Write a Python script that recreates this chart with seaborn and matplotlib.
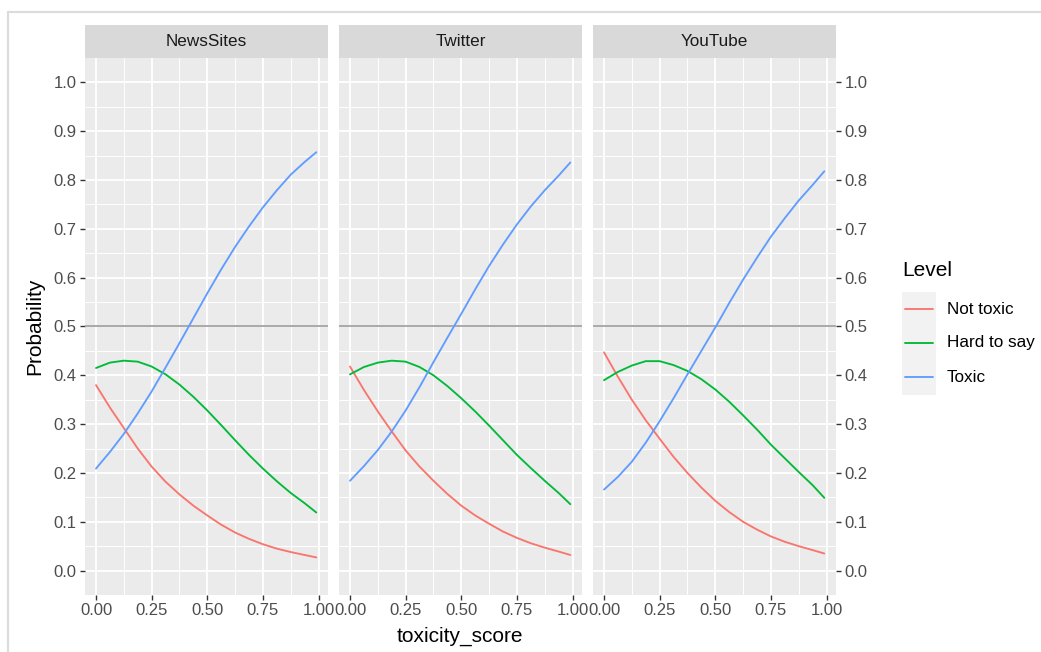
import numpy as np
import pandas as pd
import matplotlib
matplotlib.use("Agg")
import matplotlib.pyplot as plt
import seaborn as sns
from matplotlib.lines import Line2D
from matplotlib.patches import Rectangle

# ---------------- data ----------------
platforms = ["NewsSites", "Twitter", "YouTube"]
levels = ["Not toxic", "Hard to say", "Toxic"]
level_colors = ["#F8766D", "#00BA38", "#619CFF"]

toxicity_score = [0.0, 0.0625, 0.125, 0.1875, 0.25, 0.3125, 0.375, 0.4375,
                  0.5, 0.5625, 0.625, 0.6875, 0.75, 0.8125, 0.875, 0.9375, 0.99]

news_not_toxic = [0.380, 0.334, 0.292, 0.250, 0.213, 0.182, 0.156, 0.133,
                  0.113, 0.094, 0.078, 0.065, 0.054, 0.045, 0.038, 0.032, 0.027]
news_hard = [0.415, 0.426, 0.430, 0.428, 0.418, 0.402, 0.381, 0.356,
             0.328, 0.298, 0.267, 0.237, 0.209, 0.183, 0.159, 0.138, 0.119]
news_toxic = [0.209, 0.243, 0.280, 0.322, 0.367, 0.416, 0.466, 0.517,
              0.568, 0.617, 0.663, 0.705, 0.744, 0.779, 0.811, 0.837, 0.857]

twitter_not_toxic = [0.418, 0.370, 0.326, 0.285, 0.246, 0.213, 0.184, 0.157,
                     0.133, 0.113, 0.096, 0.080, 0.067, 0.056, 0.047, 0.039, 0.032]
twitter_hard = [0.402, 0.417, 0.426, 0.430, 0.428, 0.417, 0.400, 0.378,
                0.353, 0.326, 0.297, 0.267, 0.237, 0.210, 0.184, 0.159, 0.136]
twitter_toxic = [0.184, 0.214, 0.247, 0.285, 0.328, 0.376, 0.427, 0.477,
                 0.526, 0.576, 0.624, 0.668, 0.709, 0.746, 0.779, 0.809, 0.836]

youtube_not_toxic = [0.447, 0.397, 0.350, 0.308, 0.270, 0.233, 0.200, 0.170,
                     0.143, 0.120, 0.100, 0.084, 0.070, 0.059, 0.050, 0.042, 0.035]
youtube_hard = [0.390, 0.407, 0.420, 0.429, 0.429, 0.421, 0.409, 0.392,
                0.371, 0.346, 0.318, 0.289, 0.258, 0.230, 0.202, 0.175, 0.149]
youtube_toxic = [0.166, 0.192, 0.223, 0.262, 0.306, 0.353, 0.402, 0.450,
                 0.498, 0.548, 0.596, 0.641, 0.684, 0.722, 0.758, 0.790, 0.818]

x_tick_values = [0.0, 0.25, 0.5, 0.75, 1.0]
x_tick_labels = ["0.00", "0.25", "0.50", "0.75", "1.00"]
y_tick_values = [0.0, 0.1, 0.2, 0.3, 0.4, 0.5, 0.6, 0.7, 0.8, 0.9, 1.0]
y_tick_labels = ["0.0", "0.1", "0.2", "0.3", "0.4", "0.5", "0.6", "0.7", "0.8", "0.9", "1.0"]
reference_line = 0.5

series = {
    ("NewsSites", "Not toxic"): news_not_toxic,
    ("NewsSites", "Hard to say"): news_hard,
    ("NewsSites", "Toxic"): news_toxic,
    ("Twitter", "Not toxic"): twitter_not_toxic,
    ("Twitter", "Hard to say"): twitter_hard,
    ("Twitter", "Toxic"): twitter_toxic,
    ("YouTube", "Not toxic"): youtube_not_toxic,
    ("YouTube", "Hard to say"): youtube_hard,
    ("YouTube", "Toxic"): youtube_toxic,
}
rows = []
for (plat, lev), vals in series.items():
    for xv, yv in zip(toxicity_score, vals):
        rows.append({"platform": plat, "Level": lev, "toxicity_score": xv, "Probability": yv})
df = pd.DataFrame(rows)

# ---------------- styling ----------------
sns.set_style("white")
plt.rcParams["font.family"] = ["Liberation Sans", "DejaVu Sans"]

W, H = 1041, 652
fig = plt.figure(figsize=(W / 100, H / 100), dpi=100)
fig.patch.set_facecolor("white")

def fx(px):
    return px / W

def fy(py):
    return 1 - py / H

palette = dict(zip(levels, level_colors))
panel_left = [85, 339, 593]
panel_w = 243
top, bottom = 58, 595
strip_top = 25
tick_color = "#4D4D4D"

for i, plat in enumerate(platforms):
    ax = fig.add_axes([fx(panel_left[i]), fy(bottom), panel_w / W, (bottom - top) / H])
    ax.set_facecolor("#EBEBEB")
    for s in ax.spines.values():
        s.set_visible(False)
    ax.set_xlim(-0.0495, 1.0425)
    ax.set_ylim(-0.05, 1.05)
    ax.set_xticks(x_tick_values)
    ax.set_xticklabels(x_tick_labels)
    ax.set_xticks([0.125, 0.375, 0.625, 0.875], minor=True)
    ax.set_yticks(y_tick_values)
    ax.set_yticklabels(y_tick_labels)
    ax.set_yticks(np.arange(0.05, 1.0, 0.1), minor=True)
    ax.grid(which="major", color="white", linewidth=1.35)
    ax.grid(which="minor", color="white", linewidth=0.7)
    ax.set_axisbelow(True)
    ax.tick_params(which="minor", length=0)
    ax.tick_params(which="major", length=3.6, width=1.0, color="#333333",
                   labelcolor=tick_color, labelsize=12, pad=2.5)
    if i == 0:
        ax.tick_params(axis="y", left=True, labelleft=True)
    elif i == 2:
        ax.tick_params(axis="y", left=False, labelleft=False, right=True, labelright=True)
    else:
        ax.tick_params(axis="y", left=False, labelleft=False)
    ax.tick_params(axis="x", bottom=True, labelbottom=True)

    ax.axhline(reference_line, color="#A9A9A9", linewidth=1.4, zorder=1.5)
    sub = df[df["platform"] == plat]
    sns.lineplot(data=sub, x="toxicity_score", y="Probability", hue="Level",
                 hue_order=levels, palette=palette, ax=ax, legend=False,
                 linewidth=1.35, zorder=3)
    ax.set_xlabel("")
    ax.set_ylabel("")

    # strip
    sax = fig.add_axes([fx(panel_left[i]), fy(top), panel_w / W, (top - strip_top) / H])
    sax.set_facecolor("#D9D9D9")
    sax.set_xticks([])
    sax.set_yticks([])
    for s in sax.spines.values():
        s.set_visible(False)
    sax.text(0.5, 0.5, plat, ha="center", va="center", fontsize=12.3,
             color="#1A1A1A", transform=sax.transAxes)

# axis titles
fig.text(fx(35), fy(326), "Probability", rotation=90, ha="center", va="center",
         fontsize=15, color="black")
fig.text(fx(460), fy(636), "toxicity_score", ha="center", va="center",
         fontsize=15, color="black")

# legend
fig.text(fx(902), fy(271), "Level", ha="left", va="center", fontsize=15, color="black")
fig.patches.append(Rectangle((fx(902), fy(395)), 34 / W, 103 / H,
                             transform=fig.transFigure, facecolor="#F2F2F2",
                             edgecolor="none", figure=fig))
key_y = [309, 343, 377]
for lev, col, ky in zip(levels, level_colors, key_y):
    fig.lines.append(Line2D([fx(905), fx(933)], [fy(ky), fy(ky)], color=col,
                            linewidth=1.35, transform=fig.transFigure, figure=fig))
    fig.text(fx(947), fy(ky), lev, ha="left", va="center", fontsize=12.3, color="black")

# outer light-grey frame (screenshot border)
fig.lines.append(Line2D([fx(8), fx(8)], [fy(11.5), 0], color="#DCDCDC", linewidth=1.6,
                        transform=fig.transFigure, figure=fig))
fig.lines.append(Line2D([fx(8), 1], [fy(11.5), fy(11.5)], color="#DCDCDC", linewidth=1.6,
                        transform=fig.transFigure, figure=fig))

fig.savefig("out.png", dpi=100, facecolor="white")
